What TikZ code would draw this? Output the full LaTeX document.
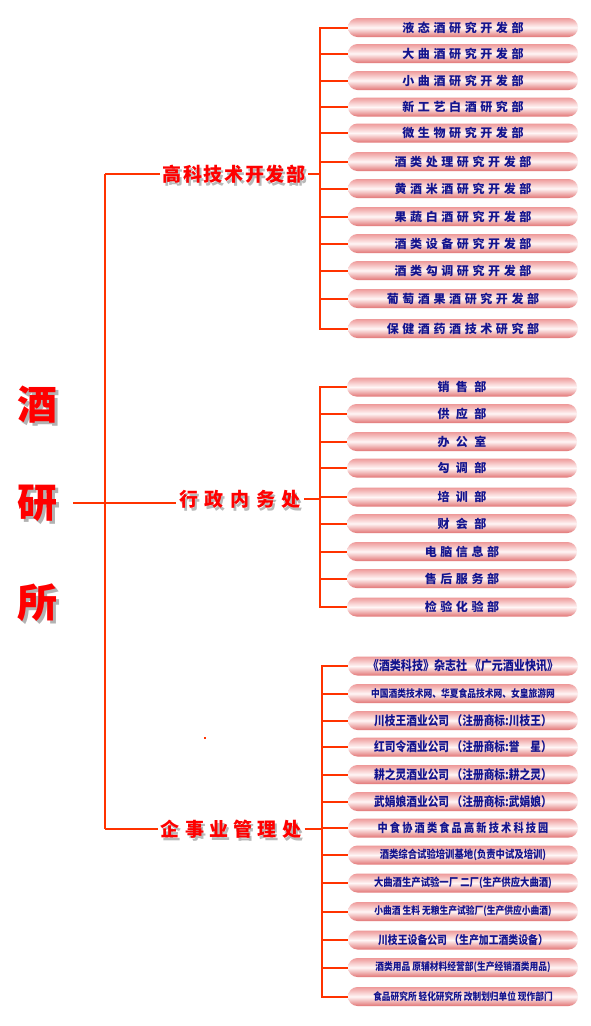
\documentclass[tikz,border=0pt]{standalone}
\usepackage{fontspec}
\setmainfont{Noto Sans CJK SC}
\newfontfamily\boxfont[LetterSpace=30]{Noto Sans CJK SC}
\newfontfamily\firmfont[FakeStretch=0.85]{Noto Sans CJK SC}
\newfontfamily\headfont[LetterSpace=8]{Noto Sans CJK SC}
\usepackage{xcolor}
\usepackage{tikz}
\definecolor{linkred}{HTML}{FF3300}
\definecolor{titlered}{HTML}{FF0000}
\definecolor{boxtop}{HTML}{EE9999}
\definecolor{boxmid}{HTML}{FFF6F6}
\definecolor{boxbot}{HTML}{E27575}
\definecolor{boxtext}{HTML}{14148E}

\begin{document}
\begin{tikzpicture}[x=1pt, y=-1pt]
\tikzstyle{link} = [linkred, line width=2pt]
\tikzstyle{title} = [text=titlered, font=\fontsize{40}{40}\selectfont\bfseries, inner sep=0pt]
\tikzstyle{titleshadow} = [title, text=black!30]
\tikzstyle{head} = [text=titlered, font=\headfont\fontsize{19}{19}\selectfont\bfseries, inner sep=3pt]
\tikzstyle{headshadow} = [head, text=black!28]
\tikzstyle{unit} = [rectangle, rounded corners=9.5pt, minimum width=230pt, minimum height=19pt, inner sep=0pt, top color=boxtop, bottom color=boxbot, middle color=boxmid, text=boxtext, font=\boxfont\fontsize{12}{12}\selectfont\bfseries]
\tikzstyle{firm} = [unit]

\path [fill=white, use as bounding box] (0,0) rectangle (591,1026);

% name of the institute
\node (jiush) [titleshadow] at (40,408) {酒};
\node (jiu) [title] at (37,405) {酒};
\node (yansh) [titleshadow] at (40,506) {研};
\node (yan) [title] at (37,503) {研};
\node (suosh) [titleshadow] at (40,606) {所};
\node (suo) [title] at (37,603) {所};

% the three branches
\node (hitechsh) [headshadow] at (236,177) {高科技术开发部};
\node (hitech) [head] at (234,174) {高科技术开发部};
\node (adminsh) [headshadow] at (242,502) {\addfontfeature{LetterSpace=35}行政内务处};
\node (admin) [head] at (240,499) {\addfontfeature{LetterSpace=35}行政内务处};
\node (bizsh) [headshadow] at (233,832) {\addfontfeature{LetterSpace=28}企事业管理处};
\node (biz) [head] at (231,829) {\addfontfeature{LetterSpace=28}企事业管理处};

\coordinate (trunk) at (105,0);
\draw [link] (hitech.west -| trunk) -- (biz.west -| trunk);
\draw [link] (hitech.west -| trunk) -- (hitech.west);
\draw [link] (biz.west -| trunk) -- (biz.west);
\draw [link] ([xshift=16pt]yan.east) -- (admin.west |- yan.east);

% research and development
\node (rd1) [unit] at (463,27.5) {液态酒研究开发部};
\node (rd2) [unit] at (463,53.5) {大曲酒研究开发部};
\node (rd3) [unit] at (463,80.5) {小曲酒研究开发部};
\node (rd4) [unit] at (463,107) {新工艺白酒研究部};
\node (rd5) [unit] at (463,133) {微生物研究开发部};
\node (rd6) [unit] at (463,161.5) {酒类处理研究开发部};
\node (rd7) [unit] at (463,188.5) {黄酒米酒研究开发部};
\node (rd8) [unit] at (463,216.5) {果蔬白酒研究开发部};
\node (rd9) [unit] at (463,243.5) {酒类设备研究开发部};
\node (rd10) [unit] at (463,270.5) {酒类勾调研究开发部};
\node (rd11) [unit] at (463,298.5) {葡萄酒果酒研究开发部};
\node (rd12) [unit] at (463,328.5) {保健酒药酒技术研究部};

\coordinate (bus1) at (320,0);
\draw [link] (hitech.east) -- (hitech.east -| bus1);
\draw [link] (rd1.west) -- (rd1.west -| bus1) -- (rd12.west -| bus1) -- (rd12.west);
\draw [link] (rd2.west) -- (rd2.west -| bus1);
\draw [link] (rd3.west) -- (rd3.west -| bus1);
\draw [link] (rd4.west) -- (rd4.west -| bus1);
\draw [link] (rd5.west) -- (rd5.west -| bus1);
\draw [link] (rd6.west) -- (rd6.west -| bus1);
\draw [link] (rd7.west) -- (rd7.west -| bus1);
\draw [link] (rd8.west) -- (rd8.west -| bus1);
\draw [link] (rd9.west) -- (rd9.west -| bus1);
\draw [link] (rd10.west) -- (rd10.west -| bus1);
\draw [link] (rd11.west) -- (rd11.west -| bus1);

% administration
\node (ad1) [unit] at (462,387) {销 售 部};
\node (ad2) [unit] at (462,413.5) {供 应 部};
\node (ad3) [unit] at (462,441.5) {办 公 室};
\node (ad4) [unit] at (462,468) {勾 调 部};
\node (ad5) [unit] at (462,497) {培 训 部};
\node (ad6) [unit] at (462,523.5) {财 会 部};
\node (ad7) [unit] at (462,551.5) {电脑信息部};
\node (ad8) [unit] at (462,578.5) {售后服务部};
\node (ad9) [unit] at (462,607) {检验化验部};

\coordinate (bus2) at (320,0);
\draw [link] (admin.east) -- (admin.east -| bus2);
\draw [link] (ad1.west) -- (ad1.west -| bus2) -- (ad9.west -| bus2) -- (ad9.west);
\draw [link] (ad2.west) -- (ad2.west -| bus2);
\draw [link] (ad3.west) -- (ad3.west -| bus2);
\draw [link] (ad4.west) -- (ad4.west -| bus2);
\draw [link] (ad5.west) -- (ad5.west -| bus2);
\draw [link] (ad6.west) -- (ad6.west -| bus2);
\draw [link] (ad7.west) -- (ad7.west -| bus2);
\draw [link] (ad8.west) -- (ad8.west -| bus2);

% enterprises
\node (ent1) [firm, font=\firmfont\fontsize{13}{13}\selectfont\bfseries] at (463,666) {《酒类科技》杂志社 《广元酒业快讯》};
\node (ent2) [firm, font=\firmfont\fontsize{10.3}{11}\selectfont\bfseries] at (463,693.5) {中国酒类技术网、华夏食品技术网、女皇旅游网};
\node (ent3) [firm, font=\firmfont\fontsize{12.6}{13}\selectfont\bfseries] at (463,720.5) {川枝王酒业公司 （注册商标:川枝王）};
\node (ent4) [firm, font=\firmfont\fontsize{12.6}{13}\selectfont\bfseries] at (463,747) {红司令酒业公司 （注册商标:誉　星）};
\node (ent5) [firm, font=\firmfont\fontsize{12.6}{13}\selectfont\bfseries] at (463,774.5) {耕之灵酒业公司 （注册商标:耕之灵）};
\node (ent6) [firm, font=\firmfont\fontsize{12.6}{13}\selectfont\bfseries] at (463,801.5) {武娟娘酒业公司 （注册商标:武娟娘）};
\node (ent7) [firm, font=\firmfont\fontsize{12}{12}\selectfont\bfseries\addfontfeature{LetterSpace=18}] at (463,828) {中食协酒类食品高新技术科技园};
\node (ent8) [firm, font=\firmfont\fontsize{11}{12}\selectfont\bfseries] at (463,855) {酒类综合试验培训基地(负责中试及培训)};
\node (ent9) [firm, font=\firmfont\fontsize{11}{12}\selectfont\bfseries] at (463,883) {大曲酒生产试验一厂 二厂(生产供应大曲酒)};
\node (ent10) [firm, font=\firmfont\fontsize{10.3}{11}\selectfont\bfseries] at (463,911.5) {小曲酒 生料 无粮生产试验厂(生产供应小曲酒)};
\node (ent11) [firm, font=\firmfont\fontsize{11.6}{12}\selectfont\bfseries] at (463,940) {川枝王设备公司 （生产加工酒类设备）};
\node (ent12) [firm, font=\firmfont\fontsize{10.3}{11}\selectfont\bfseries] at (463,967.5) {酒类用品 原辅材料经营部(生产经销酒类用品)};
\node (ent13) [firm, font=\firmfont\fontsize{10.2}{11}\selectfont\bfseries] at (463,996.5) {食品研究所 轻化研究所 改制划归单位 现作部门};

\coordinate (bus3) at (322,0);
\draw [link] (biz.east) -- (biz.east -| bus3);
\draw [link] (ent1.west) -- (ent1.west -| bus3) -- (ent13.west -| bus3) -- (ent13.west);
\draw [link] (ent2.west) -- (ent2.west -| bus3);
\draw [link] (ent3.west) -- (ent3.west -| bus3);
\draw [link] (ent4.west) -- (ent4.west -| bus3);
\draw [link] (ent5.west) -- (ent5.west -| bus3);
\draw [link] (ent6.west) -- (ent6.west -| bus3);
\draw [link] (ent7.west) -- (ent7.west -| bus3);
\draw [link] (ent8.west) -- (ent8.west -| bus3);
\draw [link] (ent9.west) -- (ent9.west -| bus3);
\draw [link] (ent10.west) -- (ent10.west -| bus3);
\draw [link] (ent11.west) -- (ent11.west -| bus3);
\draw [link] (ent12.west) -- (ent12.west -| bus3);

% stray dot
\fill [linkred] (204,737) rectangle (206,739);
\end{tikzpicture}
\end{document}
